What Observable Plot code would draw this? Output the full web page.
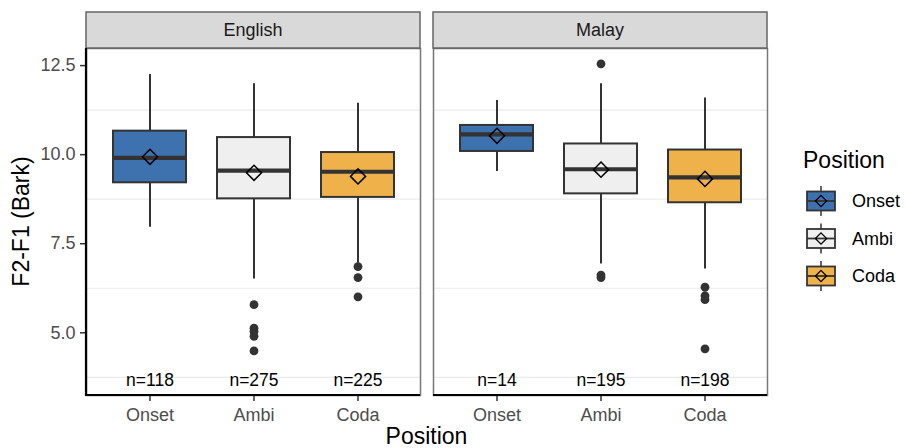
<!DOCTYPE html>
<html>
<head>
<meta charset="utf-8">
<script src="https://cdn.jsdelivr.net/npm/d3@7"></script>
<script src="https://cdn.jsdelivr.net/npm/@observablehq/plot@0.6"></script>
<style>
  html, body { margin: 0; padding: 0; background: #fff; }
  #chart { width: 907px; height: 448px; overflow: hidden; }
</style>
</head>
<body>
<div id="chart"></div>
<script>
// ---- data ----
const languages = ["English", "Malay"];
const positions = ["Onset", "Ambi", "Coda"];
const fillColors = ["#3d72ae", "#efefef", "#efb24a"];

const boxLanguage = ["English", "English", "English", "Malay", "Malay", "Malay"];
const boxPosition = ["Onset", "Ambi", "Coda", "Onset", "Ambi", "Coda"];
const whiskerLow  = [7.96, 6.51, 6.95, 9.53, 6.93, 6.79];
const q1          = [9.21, 8.76, 8.80, 10.09, 8.90, 8.65];
const medians     = [9.91, 9.55, 9.52, 10.57, 9.59, 9.36];
const q3          = [10.66, 10.48, 10.06, 10.82, 10.30, 10.13];
const whiskerHigh = [12.25, 11.99, 11.44, 11.52, 11.99, 11.59];
const means       = [9.94, 9.49, 9.39, 10.53, 9.58, 9.32];
const counts      = [118, 275, 225, 14, 195, 198];

const outlierLanguage = ["English","English","English","English","English",
                         "English","English","English",
                         "Malay","Malay","Malay",
                         "Malay","Malay","Malay","Malay"];
const outlierPosition = ["Ambi","Ambi","Ambi","Ambi","Ambi",
                         "Coda","Coda","Coda",
                         "Ambi","Ambi","Ambi",
                         "Coda","Coda","Coda","Coda"];
const outlierValue    = [5.79, 5.13, 5.04, 4.90, 4.49,
                         6.86, 6.55, 6.01,
                         12.55, 6.62, 6.55,
                         6.28, 6.04, 5.93, 4.55];

const yTicks = [5.0, 7.5, 10.0, 12.5];
const minorGrid = [3.75, 6.25, 8.75, 11.25];
const yDomain = [3.24, 12.98];
const nLabelY = 3.66;

// ---- tables ----
const boxes = boxLanguage.map((language, i) => ({
  language, position: boxPosition[i],
  lo: whiskerLow[i], q1: q1[i], median: medians[i], q3: q3[i], hi: whiskerHigh[i],
  mean: means[i], n: counts[i]
}));
const outliers = outlierValue.map((value, i) => ({
  language: outlierLanguage[i], position: outlierPosition[i], value
}));

const font = "'Liberation Sans', Arial, Helvetica, sans-serif";
const dark = "#333333";

const plot = Plot.plot({
  width: 907,
  height: 448,
  marginLeft: 86,
  marginRight: 140,
  marginTop: 48,
  marginBottom: 53,
  style: { fontFamily: font, fontSize: "18px", background: "white", overflow: "visible" },
  fx: { domain: languages, axis: null, paddingInner: 0.0375, paddingOuter: 0, label: null },
  x: { domain: positions, type: "band", paddingInner: 0.3, paddingOuter: 0.25, label: null },
  y: { domain: yDomain, label: null },
  color: { domain: positions, range: fillColors, legend: false },
  marks: [
    Plot.ruleY(minorGrid, { stroke: "#ebebeb", strokeWidth: 1.2 }),
    Plot.frame({ stroke: "#777", strokeWidth: 1.5 }),
    Plot.ruleX(boxes, { x: "position", fx: "language", y1: "lo", y2: "hi", stroke: dark, strokeWidth: 2 }),
    Plot.barY(boxes, { x: "position", fx: "language", y1: "q1", y2: "q3", fill: "position", stroke: dark, strokeWidth: 2 }),
    Plot.tickY(boxes, { x: "position", fx: "language", y: "median", stroke: dark, strokeWidth: 4.2 }),
    Plot.dot(boxes, { x: "position", fx: "language", y: "mean", symbol: "diamond2", r: 6.8, stroke: "black", strokeWidth: 1.5, fill: "none" }),
    Plot.dot(outliers, { x: "position", fx: "language", y: "value", r: 4.4, fill: dark, stroke: "none" }),
    Plot.text(boxes, { x: "position", fx: "language", y: () => nLabelY, text: d => "n=" + d.n, fontSize: 17.5, fill: "black" }),
    Plot.axisY({ ticks: yTicks, tickFormat: d3.format(".1f"), tickSize: 6, tickPadding: 5, fontSize: 18, fill: "#4d4d4d", stroke: dark, strokeWidth: 1.5, label: null, facetAnchor: "left" }),
    Plot.axisX({ tickSize: 6, tickPadding: 7, fontSize: 18, fill: "#4d4d4d", stroke: dark, strokeWidth: 1.5, label: null, facetAnchor: "bottom" })
  ]
});

document.getElementById("chart").appendChild(plot);

// ---- decorations: strips, axis lines, titles, legend ----
const svg = d3.select(plot);
const fx = plot.scale("fx");
const y = plot.scale("y");
const yTop = y.apply(yDomain[1]);
const yBot = y.apply(yDomain[0]);
const bw = fx.bandwidth;

languages.forEach((lang, i) => {
  const x0 = fx.apply(lang);
  svg.append("rect")
    .attr("x", x0).attr("y", yTop - 36).attr("width", bw).attr("height", 36)
    .attr("fill", "#d9d9d9").attr("stroke", "#666").attr("stroke-width", 1.5);
  svg.append("text")
    .attr("x", x0 + bw / 2).attr("y", yTop - 12)
    .attr("text-anchor", "middle").attr("fill", "#1a1a1a")
    .style("font-size", "18px").text(lang);
  svg.append("line")
    .attr("x1", x0).attr("x2", x0 + bw).attr("y1", yBot).attr("y2", yBot)
    .attr("stroke", "black").attr("stroke-width", 2.2);
  if (i === 0) {
    svg.append("line")
      .attr("x1", x0).attr("x2", x0).attr("y1", yTop).attr("y2", yBot + 1.1)
      .attr("stroke", "black").attr("stroke-width", 2.2);
  }
});

const x0 = fx.apply(languages[0]);
const x1 = fx.apply(languages[languages.length - 1]) + bw;

// axis titles
svg.append("text")
  .attr("x", (x0 + x1) / 2).attr("y", 444)
  .attr("text-anchor", "middle").attr("fill", "black")
  .style("font-size", "23px").text("Position");
svg.append("text")
  .attr("transform", `translate(28.5, ${(yTop + yBot) / 2}) rotate(-90)`)
  .attr("text-anchor", "middle").attr("fill", "black")
  .style("font-size", "23px").text("F2-F1 (Bark)");

// legend
const lg = svg.append("g").attr("text-anchor", "start");
lg.append("text")
  .attr("x", 803).attr("y", 168).attr("fill", "black").attr("text-anchor", "start")
  .style("font-size", "23px").text("Position");
positions.forEach((p, i) => {
  const cy = 201 + i * 37.5;
  const cx = 821;
  lg.append("line").attr("x1", cx).attr("x2", cx).attr("y1", cy - 15).attr("y2", cy + 15)
    .attr("stroke", dark).attr("stroke-width", 1.5);
  lg.append("rect").attr("x", cx - 14).attr("y", cy - 9.5).attr("width", 28).attr("height", 19)
    .attr("fill", fillColors[i]).attr("stroke", dark).attr("stroke-width", 1.8);
  lg.append("line").attr("x1", cx - 14).attr("x2", cx + 14).attr("y1", cy).attr("y2", cy)
    .attr("stroke", dark).attr("stroke-width", 1.8);
  lg.append("path")
    .attr("d", d3.symbol(d3.symbolDiamond2, 80)())
    .attr("transform", `translate(${cx},${cy})`)
    .attr("fill", "none").attr("stroke", "black").attr("stroke-width", 1.3);
  lg.append("text").attr("x", 852).attr("y", cy).attr("dy", "0.35em").attr("text-anchor", "start")
    .attr("fill", "black").style("font-size", "18px").text(p);
});
</script>
</body>
</html>
